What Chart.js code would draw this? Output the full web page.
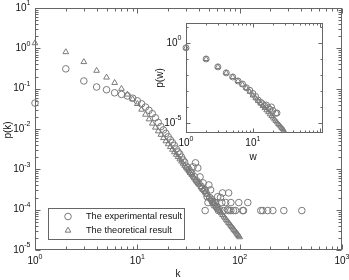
<!DOCTYPE html>
<html>
<head>
<meta charset="utf-8">
<script src="https://cdn.jsdelivr.net/npm/chart.js@4.4.1/dist/chart.umd.min.js"></script>
<style>
  html, body { margin: 0; padding: 0; background: #fff; }
  #wrap { position: relative; width: 349px; height: 280px; }
  #main { position: absolute; left: 0; top: 0; }
  #inset { position: absolute; left: 140px; top: 10px; }
</style>
</head>
<body>
<div id="wrap">
  <canvas id="main" width="349" height="280" style="width:349px;height:280px"></canvas>
  <canvas id="inset" width="200" height="160" style="width:200px;height:160px"></canvas>
</div>
<script>
// main plot: degree distribution p(k)
const expK = [1,2,3,4,5,6,7,8,9,10,11,12,13,14,15,16,17,18,19,20,21,22,23,24,25,26,27,28,29,30,
  31,32,33,34,35,36,37,38,39,40,41,42,43,44,45,46,46,47,48,49,50,51,52,53,54,55,56,57,58,59,60,
  61,62,64,65,67,68,70,73,76,78,78,82,82,87,91,98,107,109,120,161,168,188,211,270,405];
const expP = [0.044,0.31,0.155,0.11,0.094,0.079,0.072,0.066,0.058,0.050,0.042,0.035,0.029,0.024,0.019,
  0.0145,0.0115,0.0095,0.0078,0.0064,0.0054,0.0046,0.0039,0.0032,0.0027,0.0024,0.0020,0.0017,0.0015,0.0012,
  0.0011,0.00098,0.00085,0.00082,0.00115,0.00066,0.00145,0.00052,0.00108,0.00044,0.00065,0.00038,0.00034,
  0.00046,0.00030,0.00031,0.000095,0.00026,0.00021,0.00015,0.00041,0.00020,0.00031,0.00018,0.00016,0.00015,
  0.00013,0.00015,0.00015,0.00012,0.00011,0.00021,0.000095,0.00010,0.00020,0.00015,0.00026,0.000095,0.00015,
  0.00010,0.00026,0.000095,0.00015,0.000095,0.000095,0.000095,0.00015,0.000095,0.000095,0.00015,0.000095,
  0.000095,0.000095,0.000095,0.000095,0.000095];

const thK = [1,2,3,4,5,6,7,8,9,10,11,12,13,14,15,16,17,18,19,20,21,22,23,24,25,26,27,28,29,30,
  31,32,33,34,35,36,37,38,39,40,42,44,46,48,50,52,54,56,58,60,62,64,66,68,70,72,74,76,78,80,
  82,84,86,88,90,92,94,96,98,100];
const thP = [1.35,0.81,0.46,0.28,0.19,0.14,0.10,0.072,0.055,0.042,0.0304,0.0228,0.0175,0.0137,0.0109,
  0.00884,0.00724,0.00599,0.00501,0.00423,0.00360,0.00309,0.00267,0.00232,0.00203,0.00178,0.00157,0.00139,
  0.00124,0.00111,0.000997,0.000898,0.000811,0.000735,0.000668,0.000608,0.000556,0.000509,0.000467,0.000430,
  0.000366,0.000314,0.000271,0.000236,0.000206,0.000181,0.000160,0.000142,0.000126,0.000113,0.000101,
  0.0000911,0.0000823,0.0000746,0.0000678,0.0000618,0.0000564,0.0000517,0.0000474,0.0000436,0.0000402,
  0.0000371,0.0000344,0.0000318,0.0000296,0.0000275,0.0000256,0.0000239,0.0000223,0.0000209];

// inset: p(w)
const wExp = [1,2,3,4,5,6,7,8,9,10,11,12,13,14,15,16,17,18,19,20,22,23];
const pwExp = [0.5,0.1,0.032,0.0135,0.0075,0.0042,0.0027,0.0016,0.0011,0.0007,0.00045,0.00027,0.0002,
  0.00016,0.00012,0.00013,0.00009,0.00007,0.0001,0.00006,0.00004,0.000042];
const wTh = [1,2,3,4,5,6,7,8,9,10,11,12,13,14,15,16,17,18,19,20,21,22,23,24,25,26,27,28,29];
const pwTh = [0.5,0.1,0.032,0.0135,0.0075,0.0042,0.0025,0.0015,0.00088,0.00052,0.00035,0.000235,0.000163,
  0.000116,0.000085,0.000062,0.000047,0.000035,0.0000274,0.0000216,0.0000167,0.0000134,0.0000109,
  0.0000086,0.0000071,0.0000059,0.0000049,0.0000042,0.0000035];

const legendLabels = ['The experimental result', 'The theoretical result'];
const mainXExp = [0, 1, 2, 3];
const mainYExp = [-5, -4, -3, -2, -1, 0, 1];
const insetXExp = [0, 1];
const insetYExp = [-5, 0];

const FONT = 'Liberation Sans, Arial, sans-serif';
const markColor = '#7a7a7a';

function pts(xs, ys) {
  return xs.map((x, i) => ({ x: x, y: ys[i] }));
}

// "10" with a raised exponent
function powLabel(ctx, exp, x, y, align, size) {
  ctx.font = size + 'px ' + FONT;
  const w1 = ctx.measureText('10').width;
  ctx.font = Math.round(size * 0.7) + 'px ' + FONT;
  const w2 = ctx.measureText(String(exp)).width;
  let left = align === 'right' ? x - w1 - w2 : x - (w1 + w2) / 2;
  ctx.textAlign = 'left';
  ctx.textBaseline = 'middle';
  ctx.font = size + 'px ' + FONT;
  ctx.fillText('10', left, y);
  ctx.font = Math.round(size * 0.7) + 'px ' + FONT;
  ctx.fillText(String(exp), left + w1, y - size * 0.45);
}

const framePlugin = {
  id: 'frame',
  beforeDraw(chart, args, o) {
    if (!o.fill) return;
    const a = chart.chartArea, ctx = chart.ctx;
    ctx.save();
    ctx.fillStyle = '#fff';
    ctx.fillRect(a.left, a.top, a.right - a.left, a.bottom - a.top);
    ctx.restore();
  },
  beforeDatasetsDraw(chart, args, o) {
    const ctx = chart.ctx, a = chart.chartArea;
    const xs = chart.scales.x, ys = chart.scales.y;
    const L = Math.round(a.left) + 0.5, R = Math.round(a.right) - 0.5;
    const T = Math.round(a.top) + 0.5, B = Math.round(a.bottom) - 0.5;
    ctx.save();
    ctx.strokeStyle = '#666';
    ctx.lineWidth = 1;
    ctx.strokeRect(L, T, R - L, B - T);
    ctx.beginPath();
    // x ticks
    for (let d = Math.floor(Math.log10(xs.min)); d <= Math.ceil(Math.log10(xs.max)); d++) {
      for (let m = 1; m <= 9; m++) {
        const v = m * Math.pow(10, d);
        if (v < xs.min * 0.999 || v > xs.max * 1.001) continue;
        const len = m === 1 ? o.major : o.minor;
        const px = Math.round(xs.getPixelForValue(v)) + 0.5;
        ctx.moveTo(px, B); ctx.lineTo(px, B - len);
        ctx.moveTo(px, T); ctx.lineTo(px, T + len);
      }
    }
    // y ticks
    for (let d = Math.floor(Math.log10(ys.min)); d <= Math.ceil(Math.log10(ys.max)); d++) {
      for (let m = 1; m <= 9; m++) {
        if (m > 1 && !o.yMinor) continue;
        const v = m * Math.pow(10, d);
        if (v < ys.min * 0.999 || v > ys.max * 1.001) continue;
        let len = m === 1 ? o.major : o.minor;
        if (!o.yMinor && !o.yExp.includes(d)) len = o.minor;
        const py = Math.round(ys.getPixelForValue(v)) + 0.5;
        ctx.moveTo(L, py); ctx.lineTo(L + len, py);
        ctx.moveTo(R, py); ctx.lineTo(R - len, py);
      }
    }
    ctx.stroke();

    ctx.fillStyle = '#111';
    o.xExp.forEach(e => powLabel(ctx, e, xs.getPixelForValue(Math.pow(10, e)), B + o.xLabelGap, 'center', o.size));
    o.yExp.forEach(e => powLabel(ctx, e, L - 5, ys.getPixelForValue(Math.pow(10, e)), 'right', o.size));

    // axis titles
    ctx.font = o.size + 'px ' + FONT;
    ctx.textAlign = 'center';
    ctx.textBaseline = 'middle';
    ctx.fillText(o.xTitle, o.xTitlePos[0], o.xTitlePos[1]);
    ctx.save();
    ctx.translate(o.yTitlePos[0], o.yTitlePos[1]);
    ctx.rotate(-Math.PI / 2);
    ctx.fillText(o.yTitle, 0, 0);
    ctx.restore();
    ctx.restore();
  },
  afterDatasetsDraw(chart, args, o) {
    if (!o.legend) return;
    const ctx = chart.ctx, lg = o.legend;
    ctx.save();
    ctx.fillStyle = '#fff';
    ctx.fillRect(lg.x, lg.y, lg.w, lg.h);
    ctx.strokeStyle = '#666';
    ctx.lineWidth = 1;
    ctx.strokeRect(lg.x + 0.5, lg.y + 0.5, lg.w, lg.h);
    chart.data.datasets.forEach((ds, i) => {
      const cy = lg.y + 8.5 + i * 14;
      ctx.strokeStyle = markColor;
      ctx.fillStyle = 'rgba(0,0,0,0)';
      Chart.helpers.drawPoint(ctx, {
        pointStyle: ds.pointStyle, radius: ds.pointRadius,
        borderWidth: 1, rotation: 0
      }, lg.x + 20, cy);
      ctx.fillStyle = '#111';
      ctx.font = '9.2px ' + FONT;
      ctx.textAlign = 'left';
      ctx.textBaseline = 'middle';
      ctx.fillText(ds.label, lg.x + 38, cy);
    });
    ctx.restore();
  }
};

function makeChart(id, sets, xr, yr, pad, frame, radius) {
  return new Chart(document.getElementById(id), {
    type: 'scatter',
    plugins: [framePlugin],
    data: {
      datasets: sets.map(s => ({
        label: s.label,
        data: s.data,
        pointStyle: s.style,
        pointRadius: radius,
        pointHoverRadius: radius,
        borderWidth: 1,
        borderColor: markColor,
        backgroundColor: 'rgba(0,0,0,0)',
        clip: false
      }))
    },
    options: {
      responsive: false,
      animation: false,
      events: [],
      layout: { padding: pad },
      scales: {
        x: { type: 'logarithmic', display: false, min: xr[0], max: xr[1] },
        y: { type: 'logarithmic', display: false, min: yr[0], max: yr[1] }
      },
      plugins: {
        legend: { display: false },
        tooltip: { enabled: false },
        frame: frame
      }
    }
  });
}

makeChart('main', [
    { label: legendLabels[0], data: pts(expK, expP), style: 'circle' },
    { label: legendLabels[1], data: pts(thK, thP), style: 'triangle' }
  ],
  [1, 1000], [1e-5, 10],
  { left: 35, top: 8, right: 7, bottom: 30 },
  {
    major: 5, minor: 3, yMinor: true, size: 10, xLabelGap: 12,
    xExp: mainXExp, yExp: mainYExp,
    xTitle: 'k', xTitlePos: [178, 274], yTitle: 'p(k)', yTitlePos: [8, 130],
    legend: { x: 48, y: 208, w: 136, h: 31 }
  }, 3.3);

makeChart('inset', [
    { label: legendLabels[0], data: pts(wExp, pwExp), style: 'circle' },
    { label: legendLabels[1], data: pts(wTh, pwTh), style: 'triangle' }
  ],
  [1, Math.pow(10, 2.05)], [Math.pow(10, -5.63), Math.pow(10, 1.25)],
  { left: 46, top: 13, right: 17, bottom: 37 },
  {
    fill: true, major: 4, minor: 2, yMinor: false, size: 10, xLabelGap: 11,
    xExp: insetXExp, yExp: insetYExp,
    xTitle: 'w', xTitlePos: [113, 147], yTitle: 'p(w)', yTitlePos: [20, 68]
  }, 3);
</script>
</body>
</html>
